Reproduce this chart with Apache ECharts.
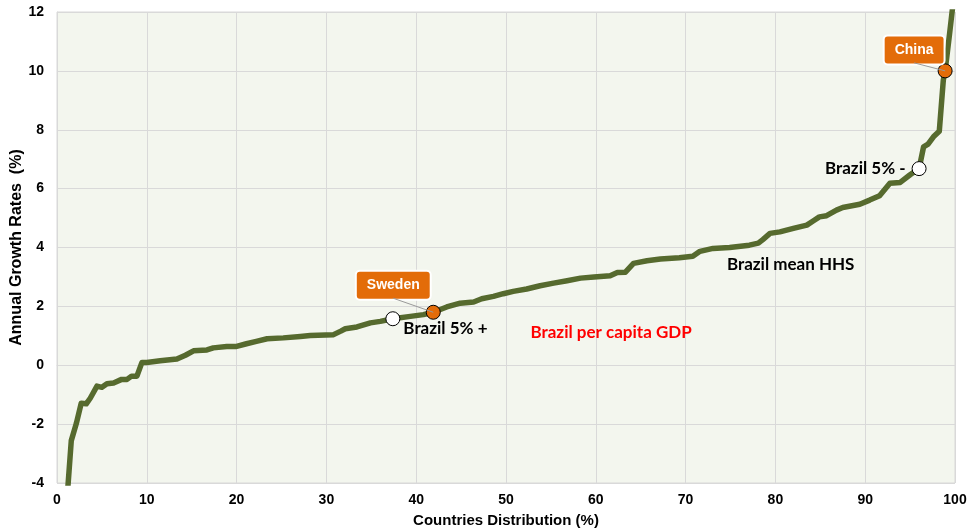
<!DOCTYPE html>
<html>
<head>
<meta charset="utf-8">
<script src="https://cdn.jsdelivr.net/npm/echarts@6/dist/echarts.min.js"></script>
<style>
  html, body { margin: 0; padding: 0; background: #fff; }
  #growthChart { width: 969px; height: 532px; }
</style>
</head>
<body>
<div id="growthChart"></div>
<script>
  // countries sorted by growth rate: cumulative share (%) and annual growth (%)
  const shareX = [1.1, 1.59, 2.15, 2.7, 3.26, 3.7, 4.45, 5.0, 5.56, 6.3, 7.2, 7.8, 8.3, 8.9, 9.45, 10,
    11.5, 13.35, 14.3, 15.2, 16.7, 17.4, 18.9, 20, 21.1, 22.2, 23.4, 25.2, 27.1, 28.2, 30.8, 31.6,
    32.1, 33.4, 34.9, 36.0, 37.4, 39.35, 40.8, 41.9, 43.4, 44.9, 46.4, 47.3, 48.6, 49.7, 50.8, 52.3,
    53.8, 55.3, 56.8, 58.3, 59.8, 61.6, 62.4, 63.3, 64.2, 65.7, 67.2, 69.3, 70.8, 71.6, 73.05, 74.9,
    77.1, 78.1, 78.6, 79.4, 80.5, 82.0, 83.5, 84.2, 84.9, 85.7, 86.8, 87.5, 89.4, 90.5, 91.6, 92.75,
    93.9, 95.0, 96.0, 96.5, 97.0, 97.6, 98.25, 98.7, 98.9, 99.4, 99.9]
  const growth = [-4.6, -2.56, -1.98, -1.29, -1.31, -1.12, -0.71, -0.75, -0.63, -0.6, -0.48, -0.48, -0.37, -0.37, 0.09, 0.09,
    0.15, 0.21, 0.34, 0.49, 0.52, 0.59, 0.64, 0.64, 0.73, 0.81, 0.9, 0.93, 0.98, 1.01, 1.04, 1.16,
    1.24, 1.30, 1.44, 1.49, 1.58, 1.66, 1.72, 1.80, 1.98, 2.11, 2.15, 2.26, 2.34, 2.43, 2.51, 2.59,
    2.70, 2.79, 2.87, 2.96, 3.0, 3.04, 3.15, 3.16, 3.46, 3.55, 3.61, 3.65, 3.70, 3.87, 3.97, 4.0,
    4.08, 4.15, 4.27, 4.48, 4.53, 4.65, 4.76, 4.90, 5.04, 5.08, 5.27, 5.36, 5.47, 5.61, 5.76, 6.18,
    6.21, 6.47, 6.68, 7.42, 7.51, 7.76, 7.95, 9.69, 10.0, 11.27, 12.6]

  const countryNames = ['Sweden', 'China']
  const countryX = [41.9, 98.9]
  const countryY = [1.80, 10.0]

  const brazilNames = ['Brazil 5% +', 'Brazil 5% -']
  const brazilX = [37.4, 96.0]
  const brazilY = [1.58, 6.68]

  const noteNames = ['Brazil per capita GDP', 'Brazil mean HHS']
  const noteX = [61.7, 81.7]
  const noteY = [1.12, 3.43]

  const xTicks = [0, 10, 20, 30, 40, 50, 60, 70, 80, 90, 100]
  const yTicks = [-4, -2, 0, 2, 4, 6, 8, 10, 12]

  let myChart = echarts.init(document.getElementById('growthChart'))
  const gridColor = '#d9d9d9'
  const tickFont = {
    color: '#000',
    fontFamily: 'Liberation Sans',
    fontWeight: 'bold',
    fontSize: 14
  }
  const noteFont = 'Lato'
  // pixel shift of the country call-out boxes from their marker
  const boxShift = { Sweden: [-40, -27], China: [-31, -21] }

  const option = {
    animation: false,
    grid: {
      left: 57,
      right: 14,
      top: 12,
      bottom: 49,
      outerBoundsMode: 'none',
      show: true,
      backgroundColor: '#f3f6ee',
      borderColor: gridColor,
      borderWidth: 1
    },
    xAxis: {
      type: 'value',
      min: xTicks[0],
      max: xTicks[xTicks.length - 1],
      interval: 10,
      name: 'Countries Distribution (%)',
      nameLocation: 'middle',
      nameGap: 30,
      nameMoveOverlap: false,
      nameTextStyle: { color: '#000', fontFamily: 'Liberation Sans', fontWeight: 'bold', fontSize: 15 },
      axisLine: { show: true, lineStyle: { color: gridColor } },
      axisTick: { show: false },
      axisLabel: Object.assign({ margin: 10 }, tickFont),
      splitLine: { show: true, lineStyle: { color: gridColor, width: 1 } }
    },
    yAxis: {
      type: 'value',
      min: yTicks[0],
      max: yTicks[yTicks.length - 1],
      interval: 2,
      name: 'Annual Growth Rates  (%)',
      nameLocation: 'middle',
      nameGap: 32,
      nameMoveOverlap: false,
      nameTextStyle: { color: '#000', fontFamily: 'Liberation Sans', fontWeight: 'bold', fontSize: 16 },
      axisLine: { show: true, lineStyle: { color: gridColor } },
      axisTick: { show: false },
      axisLabel: Object.assign({ margin: 13 }, tickFont),
      splitLine: { show: true, lineStyle: { color: gridColor, width: 1 } }
    },
    series: [
      {
        name: 'growth',
        type: 'line',
        clip: true,
        showSymbol: false,
        symbol: 'none',
        lineStyle: { color: '#566a2e', width: 5.5, join: 'round', cap: 'round' },
        z: 2,
        data: shareX.map(function (x, i) { return [x, growth[i]] })
      },
      {
        name: 'brazil',
        type: 'scatter',
        symbolSize: 14,
        itemStyle: { color: '#fff', borderColor: '#000', borderWidth: 1, opacity: 1 },
        z: 4,
        label: {
          show: true,
          formatter: '{b}',
          color: '#000',
          fontFamily: noteFont,
          fontWeight: 'bold',
          fontSize: 17
        },
        data: brazilNames.map(function (n, i) {
          let pos = i === 0
            ? { position: 'right', offset: [0, 10], distance: 3 }
            : { position: 'left', offset: [0, 0], distance: 6 }
          return { name: n, value: [brazilX[i], brazilY[i]], label: pos }
        })
      },
      {
        name: 'countries',
        type: 'scatter',
        symbolSize: 14,
        itemStyle: { color: '#e36c09', borderColor: '#000', borderWidth: 1, opacity: 1 },
        z: 5,
        label: {
          show: true,
          position: 'inside',
          formatter: '{b}',
          color: '#fff',
          fontFamily: 'Liberation Sans',
          fontWeight: 'bold',
          fontSize: 14,
          backgroundColor: '#e36c09',
          borderColor: '#fff',
          borderWidth: 2,
          borderRadius: 3,
          padding: [7, 10, 6, 10]
        },
        labelLayout: function (params) {
          let s = boxShift[params.text] || [0, 0]
          return { dx: s[0], dy: s[1] }
        },
        data: countryNames.map(function (n, i) {
          return { name: n, value: [countryX[i], countryY[i]] }
        })
      },
      {
        // thin leader lines from the call-out boxes to the markers
        name: 'leaders',
        type: 'custom',
        z: 6,
        silent: true,
        renderItem: function (params, api) {
          let p = api.coord([api.value(0), api.value(1)])
          let s = boxShift[countryNames[params.dataIndex]]
          return {
            type: 'line',
            shape: { x1: p[0] + s[0], y1: p[1] + s[1] + 13, x2: p[0], y2: p[1] },
            style: { stroke: '#9a9a9a', lineWidth: 1 }
          }
        },
        data: countryX.map(function (x, i) { return [x, countryY[i]] })
      },
      {
        name: 'notes',
        type: 'scatter',
        symbolSize: 0,
        silent: true,
        itemStyle: { opacity: 1 },
        label: {
          show: true,
          position: 'inside',
          formatter: '{b}',
          fontFamily: noteFont,
          fontWeight: 'bold',
          fontSize: 17
        },
        data: noteNames.map(function (n, i) {
          return { name: n, value: [noteX[i], noteY[i]], label: { color: i === 0 ? '#ff0000' : '#000' } }
        })
      }
    ]
  }
  myChart.setOption(option)
</script>
</body>
</html>
